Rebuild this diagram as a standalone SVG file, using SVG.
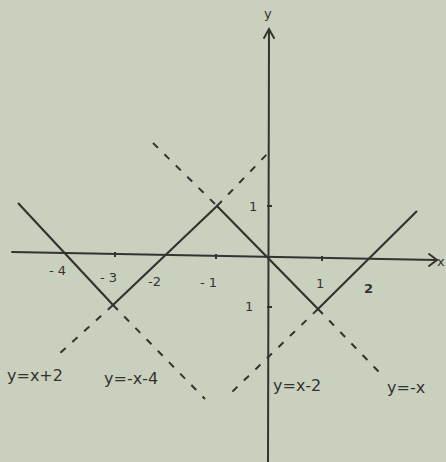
<svg xmlns="http://www.w3.org/2000/svg" width="446" height="462" viewBox="0 0 446 462">
<style>
.ax{stroke:#333330;stroke-width:2;fill:none;stroke-linecap:round}
.sol{stroke:#333330;stroke-width:2.2;fill:none;stroke-linejoin:miter}
.dash{stroke:#333330;stroke-width:2;fill:none;stroke-dasharray:7 9}
.lbl{font-family:"DejaVu Sans","Liberation Sans",sans-serif;font-size:16px;fill:#333330}
.tk{font-family:"DejaVu Sans","Liberation Sans",sans-serif;font-size:13px;fill:#333330}
</style>
<rect width="446" height="462" fill="#c9d1be"/>
<g id="axes">
<line class="ax" x1="12" y1="252" x2="436" y2="260"/>
<polyline class="ax" points="429,254 437,260 429,266"/>
<line class="ax" x1="269" y1="30" x2="268" y2="462"/>
<polyline class="ax" points="264,38 269,29 274,38"/>
<text class="tk" x="437" y="266">x</text>
<text class="tk" x="264" y="18">y</text>
<g stroke="#333330" stroke-width="2">
<line x1="115" y1="252" x2="115" y2="257"/>
<line x1="216" y1="254" x2="216" y2="259"/>
<line x1="322" y1="256" x2="322" y2="261"/>
<line x1="267" y1="206" x2="272" y2="206"/>
<line x1="267" y1="307" x2="272" y2="307"/>
</g>
</g>
<g id="tick-labels">
<text class="tk" x="49" y="275">- 4</text>
<text class="tk" x="100" y="282">- 3</text>
<text class="tk" x="148" y="286">-2</text>
<text class="tk" x="200" y="287">- 1</text>
<text class="tk" x="316" y="288">1</text>
<text class="tk" x="364" y="293" font-weight="bold">2</text>
<text class="tk" x="249" y="211">1</text>
<text class="tk" x="245" y="311">1</text>
</g>
<g id="connectors">
<polyline class="sol" points="18,203 113,305 217,206 268,258 318,309 417,211"/>
<line class="dash" x1="153" y1="143" x2="217" y2="206"/>
<line class="dash" x1="217" y1="206" x2="271" y2="150"/>
<line class="dash" x1="113" y1="305" x2="58" y2="355"/>
<line class="dash" x1="113" y1="305" x2="205" y2="399"/>
<line class="dash" x1="318" y1="309" x2="232" y2="392"/>
<line class="dash" x1="318" y1="309" x2="380" y2="373"/>
</g>
<g id="labels">
<text class="lbl" x="7" y="381">y=x+2</text>
<text class="lbl" x="104" y="384">y=-x-4</text>
<text class="lbl" x="273" y="391">y=x-2</text>
<text class="lbl" x="387" y="393">y=-x</text>
</g>
</svg>
